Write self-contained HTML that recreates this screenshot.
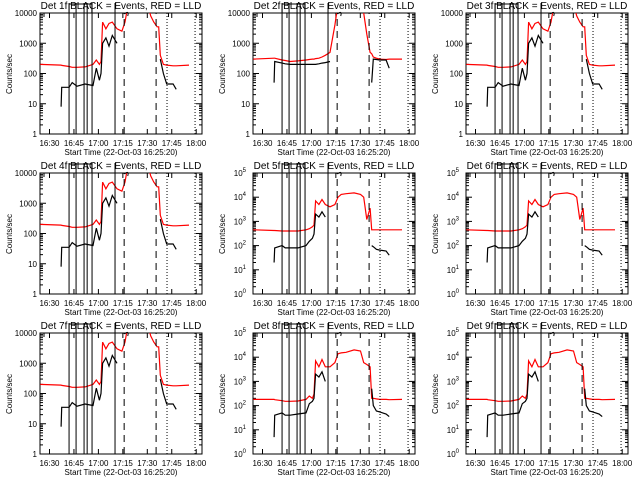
<!DOCTYPE html>
<html><head><meta charset="utf-8"><style>
html,body{margin:0;padding:0;background:#fff;}
svg{display:block;font-family:"Liberation Sans",sans-serif;}
</style></head><body>
<svg id="chart" width="640" height="480" viewBox="0 0 640 480" xmlns="http://www.w3.org/2000/svg"></svg>
<script>
// shared time grid: minutes after 16:30
const times = [-5.7,7.1,7.5,12,13.9,16.9,21.8,26.7,28.7,30.6,31.6,32.6,34.6,36.5,38.5,41.4,44.4,46.3,48.3,51.3,56.2,60.1,62.1,64,66,67,68,69.9,71.9,75.8,77.7,85.6];
// Type A (det 1,3,4,7)
const redA   = [200,190,185,170,160,160,165,200,280,200,250,5000,3000,4500,5000,3000,2500,5000,20000,30000,30000,20000,8000,5000,3500,3500,400,200,190,180,180,190];
const blackA = [null,8,35,35,50,38,45,40,150,60,100,1000,1500,800,1800,1000,null,null,null,null,null,null,null,null,null,null,300,100,45,45,30,null];
// Type B (det 2)
const redB   = [300,320,320,280,270,250,260,280,290,300,300,310,320,350,400,500,4000,20000,30000,30000,30000,30000,10000,2000,500,450,350,320,300,290,300,300];
const blackB = [null,50,250,220,210,200,200,200,200,200,200,200,210,220,230,250,null,null,null,null,null,null,null,null,null,50,300,290,280,280,150,null];
// Type C (det 5,6)
const redC   = [450,420,420,400,400,400,400,450,500,600,700,7000,5000,8000,5000,4000,5000,10000,13000,14000,15000,13000,10000,1200,3500,450,450,450,450,450,450,450];
const blackC = [null,20,80,100,80,80,80,100,150,200,300,2000,1500,2500,1500,null,null,null,null,null,null,null,null,null,null,100,90,70,65,60,40,null];
// Type D (det 8,9)
const redD   = [180,180,175,160,150,150,155,180,250,200,300,7000,4000,8000,4000,4000,6000,14000,15000,16000,20000,18000,6000,5000,4000,200,200,190,180,180,175,180];
const blackD = [null,5,40,50,40,40,45,50,120,150,200,2000,1500,2500,1000,null,null,null,null,null,null,null,null,null,null,500,100,60,55,45,35,null];
const detNames = ["1f","2f","3f","4f","5f","6f","7f","8f","9f"];
const detRed   = [redA,redB,redA,redA,redC,redC,redA,redD,redD];
const detBlack = [blackA,blackB,blackA,blackA,blackC,blackC,blackA,blackD,blackD];
const detDecades = [4,4,4,4,5,5,4,5,5];
const xTickMin = [0,15,30,45,60,75,90];
const xTickLabels = ["16:30","16:45","17:00","17:15","17:30","17:45","18:00"];
const solidLines = [12,16.3,21.2,23.1,26.1,40.2];
const dashedLines = [45.8,65.4];
const dottedLines = [72.1,89.3];

const NS="http://www.w3.org/2000/svg";
const svg=document.getElementById('chart');
function mk(tag,attrs,parent){const e=document.createElementNS(NS,tag);for(const k in attrs)e.setAttribute(k,attrs[k]);parent.appendChild(e);return e;}
const FL=40,FR=202,FT=13,FB=134;
function xs(t){return 49.5+1.63*t;}

for(let p=0;p<9;p++){
  const ox=(p%3)*213, oy=Math.floor(p/3)*160;
  const dec=detDecades[p];
  const ys=v=>FB-(Math.log10(v)/dec)*(FB-FT);
  const g=mk('g',{transform:`translate(${ox},${oy})`},svg);
  
  
  const cid='clip'+p;
  const cp=mk('clipPath',{id:cid},g);
  mk('rect',{x:FL,y:FT,width:FR-FL,height:FB-FT},cp);
  const ti=mk('text',{x:121,y:9,'font-size':10,'text-anchor':'middle',fill:'#000'},g);
  
  
  ti.textContent='Det '+detNames[p]+' BLACK = Events, RED = LLD';
  const fr=mk('rect',{x:FL,y:FT,width:FR-FL,height:FB-FT,fill:'none',stroke:'#000','stroke-width':1},g);
  
  
  for(let d=0;d<=dec;d++){
    const y=ys(Math.pow(10,d));
    mk('line',{x1:FL,x2:FL+6,y1:y,y2:y,stroke:'#000'},g);
    mk('line',{x1:FR-6,x2:FR,y1:y,y2:y,stroke:'#000'},g);
    if(d<dec){for(let m=2;m<10;m++){const ym=ys(m*Math.pow(10,d));
      mk('line',{x1:FL,x2:FL+3,y1:ym,y2:ym,stroke:'#000'},g);
      mk('line',{x1:FR-3,x2:FR,y1:ym,y2:ym,stroke:'#000'},g);}}
    const lt=mk('text',{x:37,y:y+3,'font-size':8,'text-anchor':'end',fill:'#000'},g);
    
    
    if(dec===4){lt.textContent=String(Math.pow(10,d));}
    else{lt.textContent='10';const s=mk('tspan',{dy:-4,'font-size':6},lt);s.textContent=String(d);lt.setAttribute('x',33);}
  }
  xTickMin.forEach((t,i)=>{
    const x=xs(t);
    mk('line',{x1:x,x2:x,y1:FB,y2:FB-5,stroke:'#000'},g);
    mk('line',{x1:x,x2:x,y1:FT,y2:FT+5,stroke:'#000'},g);
    const xt=mk('text',{x:x,y:146,'font-size':8,'text-anchor':'middle',fill:'#000'},g);
    
    
    xt.textContent=xTickLabels[i];
  });
  const xl=mk('text',{x:121,y:155,'font-size':8,'text-anchor':'middle',fill:'#000'},g);
  
  
  xl.textContent='Start Time (22-Oct-03 16:25:20)';
  const yl=mk('text',{x:0,y:0,'font-size':8,'text-anchor':'middle',fill:'#000',transform:'translate(12,74) rotate(-90)'},g);
  
  
  yl.textContent='Counts/sec';
  function series(vals,color,name){
    let d='',pen=false;
    for(let i=0;i<times.length;i++){
      const v=vals[i];
      if(v==null){pen=false;continue;}
      const x=xs(times[i]),y=ys(v);
      d+=(pen?'L':'M')+x.toFixed(1)+' '+y.toFixed(1)+' ';pen=true;
    }
    const pa=mk('path',{d:d,fill:'none',stroke:color,'stroke-width':1.2,'clip-path':`url(#${cid})`},g);
    
    
  }
  series(detRed[p],'#ff0000','lld-series');
  series(detBlack[p],'#000000','events-series');
  solidLines.forEach(t=>{const x=xs(t);const l=mk('line',{x1:x,x2:x,y1:FB,y2:3,stroke:'#000','stroke-width':1},g);
    });
  dashedLines.forEach(t=>{const x=xs(t);const l=mk('line',{x1:x,x2:x,y1:FB,y2:FT,stroke:'#000','stroke-dasharray':'7,5'},g);
    });
  dottedLines.forEach(t=>{const x=xs(t);const l=mk('line',{x1:x,x2:x,y1:FB,y2:FT,stroke:'#000','stroke-dasharray':'1,2'},g);
    });
  mk('path',{d:`M${FL+4} 17 V${FT} H${FL+10}`,fill:'none',stroke:'#000'},g);
  mk('path',{d:`M${xs(12)} ${FT} V4 H${xs(26)} V${FT}`,fill:'none',stroke:'#000'},g);
  mk('path',{d:`M${xs(46)} 14 Q${xs(49)} 10 ${xs(48)} 16`,fill:'none',stroke:'#000'},g);
  mk('path',{d:`M${xs(73)} 17 V${FT} H${xs(77)}`,fill:'none',stroke:'#000'},g);
}
</script>
</body></html>
